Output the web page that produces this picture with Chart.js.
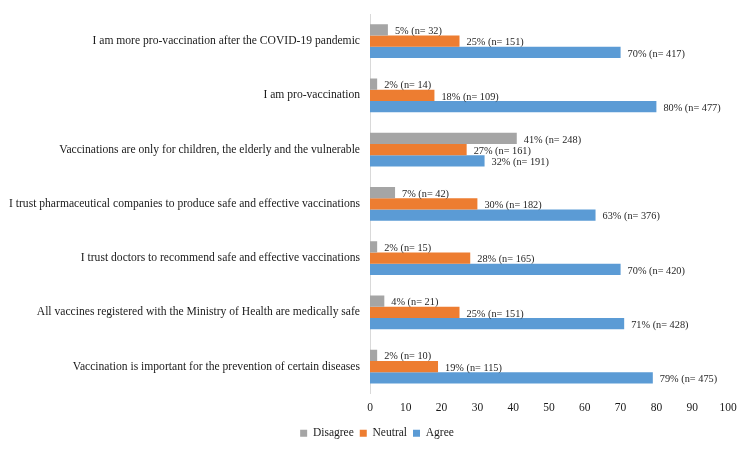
<!DOCTYPE html>
<html>
<head>
<meta charset="utf-8">
<script src="https://cdn.jsdelivr.net/npm/chart.js@4/dist/chart.umd.min.js"></script>
<style>
html,body{margin:0;padding:0;background:#fff;}
#wrap{width:750px;height:450px;position:relative;}
</style>
</head>
<body>
<div id="wrap"><canvas id="c" width="750" height="450"></canvas></div>
<script>
const categories = [
  "I am more pro-vaccination after the COVID-19 pandemic",
  "I am pro-vaccination",
  "Vaccinations are only for children, the elderly and the vulnerable",
  "I trust pharmaceutical companies to produce safe and effective vaccinations",
  "I trust doctors to recommend safe and effective vaccinations",
  "All vaccines registered with the Ministry of Health are medically safe",
  "Vaccination is important for the prevention of certain diseases"
];
const seriesNames = ["Disagree", "Neutral", "Agree"];
const disagreePct = [5, 2, 41, 7, 2, 4, 2];
const disagreeN   = [32, 14, 248, 42, 15, 21, 10];
const neutralPct  = [25, 18, 27, 30, 28, 25, 19];
const neutralN    = [151, 109, 161, 182, 165, 151, 115];
const agreePct    = [70, 80, 32, 63, 70, 71, 79];
const agreeN      = [417, 477, 191, 376, 420, 428, 475];
const xTicks = [0, 10, 20, 30, 40, 50, 60, 70, 80, 90, 100];

const colors = ["#A5A5A5", "#ED7D31", "#5B9BD5"];
const nCounts = [disagreeN, neutralN, agreeN];
const FONT = "'Liberation Serif', 'Times New Roman', serif";

const labelPlugin = {
  id: 'barLabels',
  afterDatasetsDraw(chart) {
    const ctx = chart.ctx;
    ctx.save();
    ctx.font = "10.3px " + FONT;
    ctx.fillStyle = "#262626";
    ctx.textAlign = "left";
    ctx.textBaseline = "middle";
    chart.data.datasets.forEach((ds, di) => {
      const meta = chart.getDatasetMeta(di);
      meta.data.forEach((bar, i) => {
        const txt = ds.data[i] + "% (n= " + nCounts[di][i] + ")";
        ctx.fillText(txt, bar.x + 7, bar.y + 1.5);
      });
    });
    ctx.restore();
  }
};

// shift the legend a little to the right, like the original
const legendShift = {
  id: 'legendShift',
  afterLayout(chart) {
    if (chart.legend) {
      chart.legend.left += 13;
      chart.legend.right += 13;
    }
  }
};

new Chart(document.getElementById('c'), {
  type: 'bar',
  data: {
    labels: categories,
    datasets: [
      { label: seriesNames[0], data: disagreePct, backgroundColor: colors[0] },
      { label: seriesNames[1], data: neutralPct, backgroundColor: colors[1] },
      { label: seriesNames[2], data: agreePct, backgroundColor: colors[2] }
    ]
  },
  options: {
    indexAxis: 'y',
    responsive: false,
    animation: false,
    devicePixelRatio: 1,
    layout: { padding: { top: 14, right: 22, left: 0, bottom: 1 } },
    datasets: { bar: { categoryPercentage: 0.625, barPercentage: 1.0 } },
    scales: {
      x: {
        min: 0, max: 100,
        afterBuildTicks(scale) { scale.ticks = xTicks.map(v => ({ value: v })); },
        grid: { display: false, drawTicks: false },
        border: { display: false },
        ticks: { font: { family: FONT, size: 11.5 }, color: "#1a1a1a", padding: 7 }
      },
      y: {
        afterFit(scale) { scale.width = 370; scale.paddingTop = 0; scale.paddingBottom = 0; },
        grid: { display: false, drawTicks: false },
        border: { display: true, color: "#D9D9D9", width: 1 },
        ticks: { font: { family: FONT, size: 11.6 }, color: "#1a1a1a", padding: 10 }
      }
    },
    plugins: {
      legend: {
        position: 'bottom',
        labels: {
          font: { family: FONT, size: 11.5 },
          color: "#1a1a1a",
          boxWidth: 7, boxHeight: 7,
          padding: 6
        }
      },
      tooltip: { enabled: false }
    }
  },
  plugins: [labelPlugin, legendShift]
});
</script>
</body>
</html>
